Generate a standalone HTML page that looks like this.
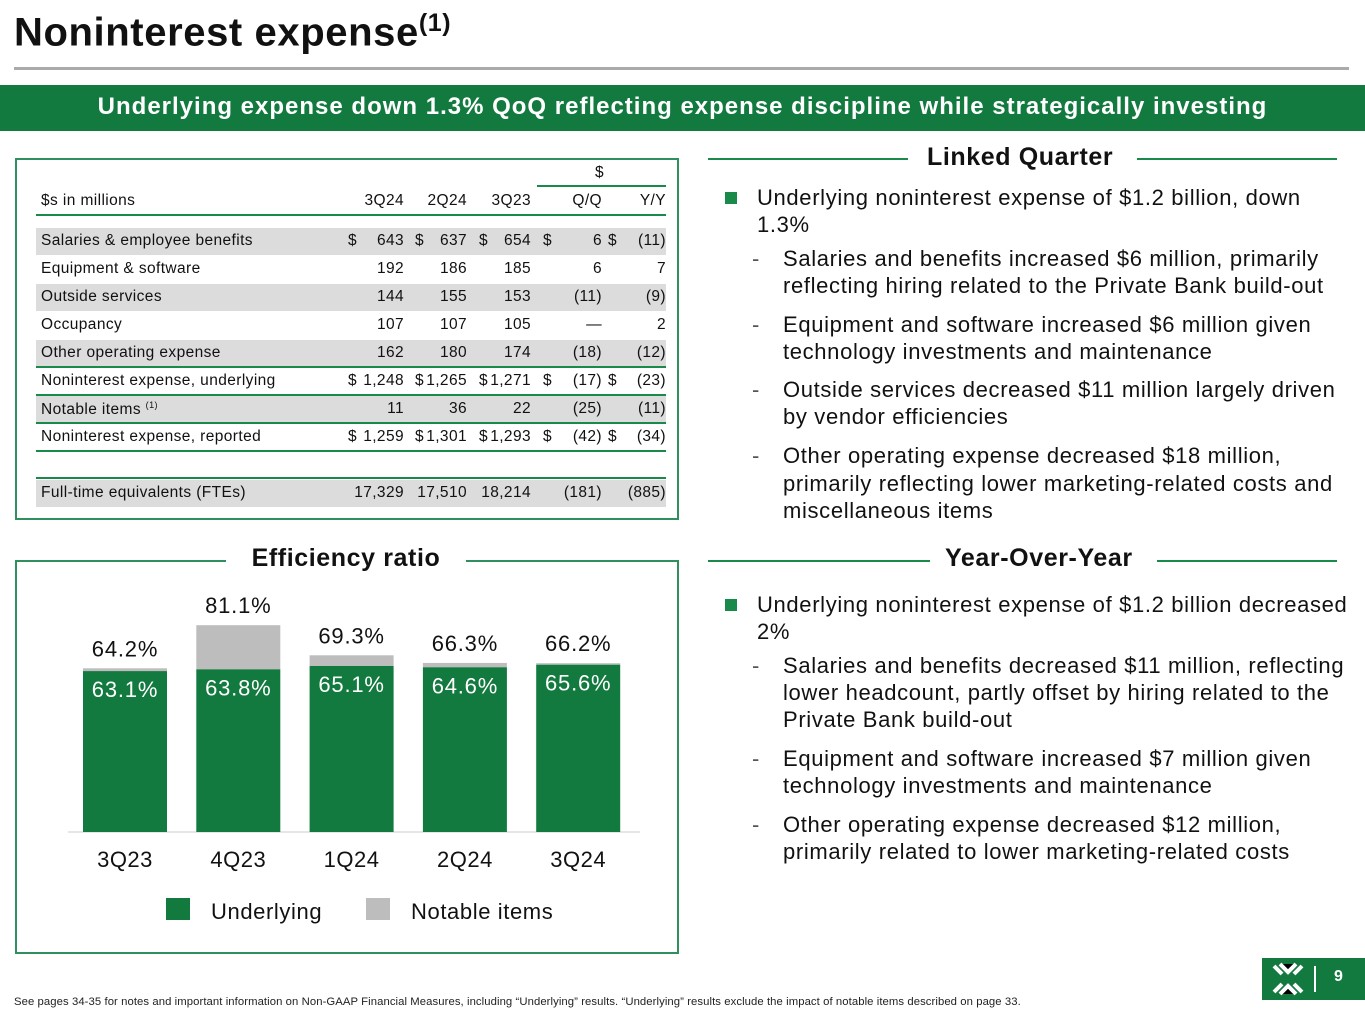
<!DOCTYPE html>
<html><head><meta charset="utf-8"><style>
*{margin:0;padding:0;box-sizing:border-box}
body{width:1365px;height:1024px;position:relative;background:#fff;font-family:"Liberation Sans",sans-serif;color:#111;overflow:hidden}
.a{position:absolute;white-space:nowrap}
.t{font-size:15.5px;letter-spacing:0.4px}
.rt{font-size:22px;letter-spacing:0.65px}
.hd{font-size:25px;font-weight:bold;letter-spacing:0.6px;background:#fff;padding:0 4px}
.gl{position:absolute;height:2px;background:#1a8a4a}
</style></head><body>
<div class="a" style="left:14px;top:9px;font-size:40px;font-weight:bold;letter-spacing:0.6px;color:#111">Noninterest expense<sup style="font-size:25px">(1)</sup></div>
<div class="a" style="left:14px;top:67px;width:1335px;height:3px;background:#aaa"></div>
<div class="a" style="left:0;top:85px;width:1365px;height:46px;background:#12793f;color:#fff;font-size:24px;letter-spacing:1px;font-weight:bold;text-align:center;line-height:44px">Underlying expense down 1.3% QoQ reflecting expense discipline while strategically investing</div>

<div class="a" style="left:15px;top:158px;width:664px;height:362px;border:2px solid #2f8f5e"></div>
<div id="tbl"></div>

<div class="a" style="left:15px;top:560px;width:664px;height:394px;border:2px solid #2f8f5e"></div>
<div class="a hd" style="left:226px;top:544px;width:240px;text-align:center">Efficiency ratio</div>
<svg class="a" style="left:0;top:0" width="700" height="1000" id="chart"></svg>

<div class="gl" style="left:708px;top:158px;width:200px"></div>
<div class="gl" style="left:1137px;top:158px;width:200px"></div>
<div class="a hd" style="left:923px;top:143px">Linked Quarter</div>
<div class="gl" style="left:708px;top:560px;width:222px"></div>
<div class="gl" style="left:1157px;top:560px;width:180px"></div>
<div class="a hd" style="left:941px;top:544px">Year-Over-Year</div>
<div id="txt"></div>

<div class="a" style="left:14px;top:996px;font-size:11.3px;letter-spacing:0.08px;color:#222">See pages 34-35 for notes and important information on Non-GAAP Financial Measures, including “Underlying” results. “Underlying” results exclude the impact of notable items described on page 33.</div>
<div class="a" style="left:1262px;top:958px;width:103px;height:42px;background:#12793f;color:#fff">
<svg width="40" height="42" style="position:absolute;left:6px;top:0"><g stroke="#fff" stroke-width="4"><path d="M6 8 L14 16 M34 8 L26 16 M6 34 L14 26 M34 34 L26 26 M12 6 L20 14 L28 6 M12 36 L20 28 L28 36"/></g></svg>
<div style="position:absolute;left:52px;top:8px;width:2px;height:26px;background:#fff"></div>
<div style="position:absolute;left:72px;top:10px;font-size:16px;font-weight:bold">9</div></div>

<script>
const rows=[
["Salaries & employee benefits",["643","637","654","6","(11)"],true,true],
["Equipment & software",["192","186","185","6","7"],false,false],
["Outside services",["144","155","153","(11)","(9)"],true,false],
["Occupancy",["107","107","105","—","2"],false,false],
["Other operating expense",["162","180","174","(18)","(12)"],true,false],
["Noninterest expense, underlying",["1,248","1,265","1,271","(17)","(23)"],false,true],
["Notable items <sup style='font-size:9px'>(1)</sup>",["11","36","22","(25)","(11)"],true,false],
["Noninterest expense, reported",["1,259","1,301","1,293","(42)","(34)"],false,true],
["Full-time equivalents (FTEs)",["17,329","17,510","18,214","(181)","(885)"],true,false]];
const rowY=[228,256,284,312,340,368,396,424,480];
const rightX=[404,467,531,602,666];
const dollarX=[348,415,479,543,608];
let h='';
h+=`<div class="a t" style="left:41px;top:192px">$s in millions</div>`;
["3Q24","2Q24","3Q23","Q/Q","Y/Y"].forEach((c,i)=>{h+=`<div class="a t" style="left:${rightX[i]-70}px;width:70px;text-align:right;top:192px">${c}</div>`});
h+=`<div class="a t" style="left:595px;top:164px">$</div><div class="a" style="left:537px;top:185px;width:129px;height:2px;background:#1a8a4a"></div>`;
h+=`<div class="a" style="left:36px;top:214px;width:630px;height:2px;background:#1a8a4a"></div>`;
rows.forEach((r,k)=>{
 const y=rowY[k];
 if(r[2])h+=`<div class="a" style="left:36px;top:${y}px;width:630px;height:27px;background:#dcdcdc"></div>`;
 h+=`<div class="a t" style="left:41px;top:${y+4}px">${r[0]}</div>`;
 r[1].forEach((v,i)=>{h+=`<div class="a t" style="left:${rightX[i]-70}px;width:70px;text-align:right;top:${y+4}px">${v}</div>`;
   if(r[3])h+=`<div class="a t" style="left:${dollarX[i]}px;top:${y+4}px">$</div>`;
 });
});
[366,394,422,450,477].forEach(y=>{h+=`<div class="a" style="left:36px;top:${y}px;width:630px;height:2px;background:#1a8a4a"></div>`});
document.getElementById('tbl').innerHTML=h;

const lines=[
[0,198,"Underlying noninterest expense of $1.2 billion, down",1],[0,225,"1.3%"],
[1,259,"Salaries and benefits increased $6 million, primarily",1],[1,286,"reflecting hiring related to the Private Bank build-out"],
[1,325,"Equipment and software increased $6 million given",1],[1,352,"technology investments and maintenance"],
[1,390,"Outside services decreased $11 million largely driven",1],[1,417,"by vendor efficiencies"],
[1,456,"Other operating expense decreased $18 million,",1],[1,484,"primarily reflecting lower marketing-related costs and"],[1,511,"miscellaneous items"],
[0,605,"Underlying noninterest expense of $1.2 billion decreased",1],[0,632,"2%"],
[1,666,"Salaries and benefits decreased $11 million, reflecting",1],[1,693,"lower headcount, partly offset by hiring related to the"],[1,720,"Private Bank build-out"],
[1,759,"Equipment and software increased $7 million given",1],[1,786,"technology investments and maintenance"],
[1,825,"Other operating expense decreased $12 million,",1],[1,852,"primarily related to lower marketing-related costs"]];
let t='';
lines.forEach(l=>{
 const x=l[0]?783:757;
 t+=`<div class="a rt" style="left:${x}px;top:${l[1]-13}px">${l[2]}</div>`;
 if(l[3]){ if(l[0])t+=`<div class="a rt" style="left:752px;top:${l[1]-13}px;color:#555">-</div>`; else t+=`<div class="a" style="left:725px;top:${l[1]-6}px;width:12px;height:12px;background:#1a8a4a"></div>`;}
});
document.getElementById('txt').innerHTML=t;

const categories=["3Q23","4Q23","1Q24","2Q24","3Q24"];
const underlying=[63.1,63.8,65.1,64.6,65.6];
const reported=[64.2,81.1,69.3,66.3,66.2];
const svg=document.getElementById('chart');
const NS="http://www.w3.org/2000/svg";
const base=832, k=2.55;
const yS=v=>base-v*k;
const xC=i=>125+i*113.3;
const bw=84;
function mk(tag,a,txt){const e=document.createElementNS(NS,tag);for(const q in a)e.setAttribute(q,a[q]);if(txt!==undefined)e.textContent=txt;svg.appendChild(e);return e;}
const ax=mk('line',{x1:68,x2:640,y1:base,y2:base,stroke:'#ccc','stroke-width':1});


categories.forEach((c,i)=>{
 const n=mk('rect',{x:xC(i)-bw/2,y:yS(reported[i]),width:bw,height:(reported[i]-underlying[i])*k,fill:'#bdbdbd'});
 
 
 const u=mk('rect',{x:xC(i)-bw/2,y:yS(underlying[i]),width:bw,height:underlying[i]*k,fill:'#12793f'});
 
 
 const ul=mk('text',{x:xC(i),y:yS(underlying[i])+26,'text-anchor':'middle','font-size':22,'letter-spacing':0.8,fill:'#fff','font-family':'Liberation Sans'},underlying[i].toFixed(1)+'%');
 
 
 const rl=mk('text',{x:xC(i),y:yS(reported[i])-12,'text-anchor':'middle','font-size':22,'letter-spacing':0.8,fill:'#111','font-family':'Liberation Sans'},reported[i].toFixed(1)+'%');
 
 
 const cl=mk('text',{x:xC(i),y:867,'text-anchor':'middle','font-size':22,'letter-spacing':0.5,fill:'#111','font-family':'Liberation Sans'},c);
 
 
});
const l1=mk('rect',{x:166,y:898,width:24,height:22,fill:'#12793f'});


const l2=mk('text',{x:211,y:919,'font-size':22,'letter-spacing':0.6,'font-family':'Liberation Sans',fill:'#111'},'Underlying');


const l3=mk('rect',{x:366,y:898,width:24,height:22,fill:'#bdbdbd'});


const l4=mk('text',{x:411,y:919,'font-size':22,'letter-spacing':0.6,'font-family':'Liberation Sans',fill:'#111'},'Notable items');


</script>
</body></html>
